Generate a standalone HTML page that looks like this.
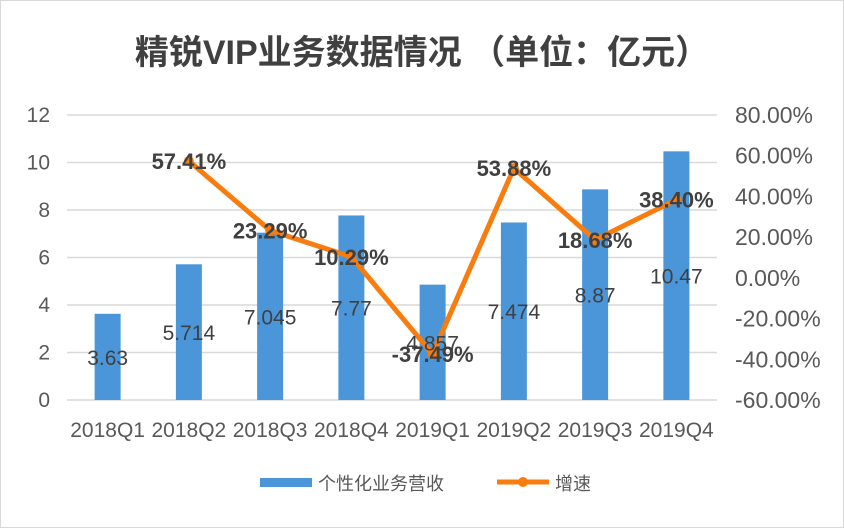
<!DOCTYPE html>
<html><head><meta charset="utf-8"><style>
body{margin:0;background:#fff}
svg{display:block;font-family:"Liberation Sans","Noto Sans CJK SC",sans-serif}
</style></head><body>
<svg width="844" height="528">
<rect x="0.5" y="0.5" width="843" height="527" fill="#fff" stroke="#d9d9d9"/>
<text x="422" y="64" text-anchor="middle" font-size="34" font-weight="bold" fill="#404040">精锐VIP业务数据情况 （单位：亿元）</text>
<g id="grid"></g><g id="bars"></g><g id="line"></g><g id="labels"></g><g id="axes"></g>
<g>
<rect x="260" y="478" width="52" height="9" fill="#4a96d9"/>
<text x="318" y="490" font-size="18" fill="#595959">个性化业务营收</text>
<line x1="497" y1="482" x2="549" y2="482" stroke="#f97d0e" stroke-width="5"/>
<circle cx="523" cy="482" r="5" fill="#f97d0e"/>
<text x="555" y="490" font-size="18" fill="#595959">增速</text>
</g>
</svg>
<script>
const categories=["2018Q1","2018Q2","2018Q3","2018Q4","2019Q1","2019Q2","2019Q3","2019Q4"];
const revenue=[3.63,5.714,7.045,7.77,4.857,7.474,8.87,10.47];
const growth=[null,57.41,23.29,10.29,-37.49,53.88,18.68,38.40];
const leftTicks=[0,2,4,6,8,10,12];
const rightTicks=[-60,-40,-20,0,20,40,60,80];
const NS="http://www.w3.org/2000/svg";
const x0=67,step=81.25,yB=400,yT=115;
const xc=i=>x0+step*(i+0.5);
const yL=v=>yB-(v-0)/(12-0)*(yB-yT);
const yR=v=>yB-(v+60)/140*(yB-yT);
function mk(p,tag,a){const e=document.createElementNS(NS,tag);for(const k in a)e.setAttribute(k,a[k]);document.getElementById(p).appendChild(e);return e;}
leftTicks.forEach(t=>{
 const l=mk("grid","line",{x1:x0,x2:x0+step*8,y1:yL(t),y2:yL(t),stroke:"#d9d9d9","stroke-width":1.5});
 
 
 const tx=mk("axes","text",{x:50,y:yL(t)+7,"text-anchor":"end","font-size":21,fill:"#595959"});tx.textContent=t;
 
 
});
rightTicks.forEach(t=>{
 const tx=mk("axes","text",{x:735,y:yR(t)+8,"font-size":23,fill:"#595959"});tx.textContent=t.toFixed(2)+"%";
 
 
});
categories.forEach((c,i)=>{
 const tx=mk("axes","text",{x:xc(i),y:437,"text-anchor":"middle","font-size":21,fill:"#595959"});tx.textContent=c;
 
 
 const b=mk("bars","rect",{x:xc(i)-13,y:yL(revenue[i]),width:26,height:yB-yL(revenue[i]),fill:"#4a96d9"});
 
 
 const bl=mk("labels","text",{x:xc(i),y:(yL(revenue[i])+yB)/2+8,"text-anchor":"middle","font-size":21,fill:"#404040"});bl.textContent=revenue[i];
 
 
});
let pts=[];growth.forEach((g,i)=>{if(g!==null)pts.push([xc(i),yR(g)]);});
const pl=mk("line","polyline",{points:pts.map(p=>p.join(",")).join(" "),fill:"none",stroke:"#f97d0e","stroke-width":5,"stroke-linejoin":"round"});


growth.forEach((g,i)=>{if(g===null)return;
 const c=mk("line","circle",{cx:xc(i),cy:yR(g),r:5,fill:"#f97d0e"});
 
 
 const t=mk("labels","text",{x:xc(i),y:yR(g)+8,"text-anchor":"middle","font-size":22,"font-weight":"bold",fill:"#404040"});t.textContent=g.toFixed(2)+"%";
 
 
});
</script>
</body></html>
